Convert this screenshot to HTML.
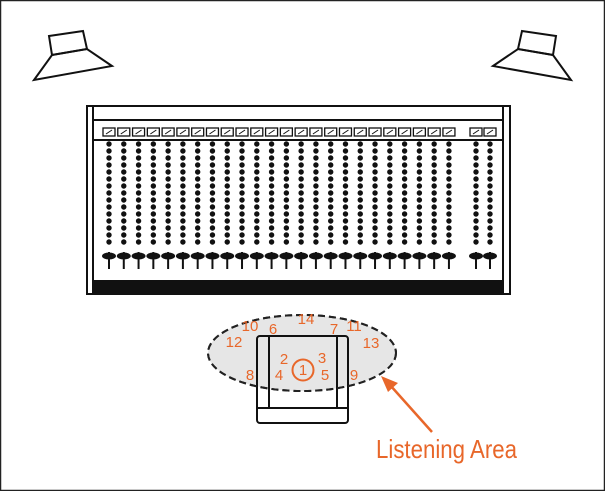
<!DOCTYPE html>
<html><head><meta charset="utf-8"><style>
html,body{margin:0;padding:0;background:#fff}
svg{display:block}
text{font-family:"Liberation Sans Narrow","Liberation Sans",sans-serif}
</style></head><body>
<svg id="s" width="605" height="491" viewBox="0 0 605 491" xmlns="http://www.w3.org/2000/svg">
<rect x="0.5" y="0.5" width="604" height="490" fill="#fff" stroke="#222" stroke-width="1.5"/>
<g fill="none" stroke="#111" stroke-width="2" stroke-linejoin="miter">
<polygon points="49,36 83,31 87,49 52,55"/>
<polygon points="52,55 87,49 112,66 34,80"/>
<g transform="translate(605,0) scale(-1,1)">
<polygon points="49,36 83,31 87,49 52,55"/>
<polygon points="52,55 87,49 112,66 34,80"/>
</g>
</g>
<g stroke="#111" fill="none" stroke-width="2">
<rect x="87" y="106" width="423" height="188"/>
<line x1="93" y1="106" x2="93" y2="294"/>
<line x1="503" y1="106" x2="503" y2="294"/>
<line x1="93" y1="120" x2="503" y2="120"/>
<line x1="93" y1="140" x2="503" y2="140"/>
</g>
<rect x="93" y="280" width="410" height="14" fill="#111"/>
<g id="ch"></g>
<ellipse cx="302" cy="353" rx="94" ry="38" fill="#e6e6e6" stroke="#222" stroke-width="2" stroke-dasharray="7,4"/>
<g stroke="#111" stroke-width="2" fill="none">
<rect x="257" y="336" width="91" height="87" rx="3"/>
<line x1="269" y1="336" x2="269" y2="408"/>
<line x1="337" y1="336" x2="337" y2="408"/>
<line x1="257" y1="408" x2="348" y2="408"/>
</g>
<ellipse cx="302" cy="353" rx="94" ry="38" fill="none" stroke="#222" stroke-width="2" stroke-dasharray="7,4"/>
<circle cx="303" cy="370" r="10.5" fill="none" stroke="#e8672a" stroke-width="2"/>
<g fill="#e8672a" font-size="15" text-anchor="middle">
<text x="306" y="324">14</text>
<text x="250" y="331">10</text>
<text x="273" y="334">6</text>
<text x="334" y="334">7</text>
<text x="354" y="331">11</text>
<text x="234" y="347">12</text>
<text x="371" y="348">13</text>
<text x="284" y="364">2</text>
<text x="322" y="363">3</text>
<text x="250" y="380">8</text>
<text x="279" y="380">4</text>
<text x="303" y="375">1</text>
<text x="325" y="380">5</text>
<text x="354" y="380">9</text>
</g>
<line x1="432" y1="432" x2="390" y2="385" stroke="#e8672a" stroke-width="2.5"/>
<polygon points="381,376 398,383 388,392" fill="#e8672a"/>
<text x="376" y="458" font-size="26" fill="#e8672a" textLength="141" lengthAdjust="spacingAndGlyphs">Listening Area</text>
</svg>
<script>
var g=document.getElementById('ch'),xs=[];
for(var i=0;i<24;i++)xs.push(109+i*14.78);
xs.push(476,490);
var h='';
xs.forEach(function(x){
 h+='<rect x="'+(x-6)+'" y="128" width="12" height="8" fill="none" stroke="#111" stroke-width="1.3"/>';
 h+='<line x1="'+(x-3)+'" y1="134" x2="'+(x+3)+'" y2="130" stroke="#111" stroke-width="1"/>';
 for(var j=0;j<15;j++)h+='<circle cx="'+x+'" cy="'+(144+j*7)+'" r="2.7" fill="#111"/>';
 h+='<ellipse cx="'+x+'" cy="256" rx="7" ry="3.5" fill="#111"/>';
 h+='<line x1="'+x+'" y1="252" x2="'+x+'" y2="269" stroke="#111" stroke-width="2"/>';
});
g.innerHTML=h;
</script>
</body></html>
